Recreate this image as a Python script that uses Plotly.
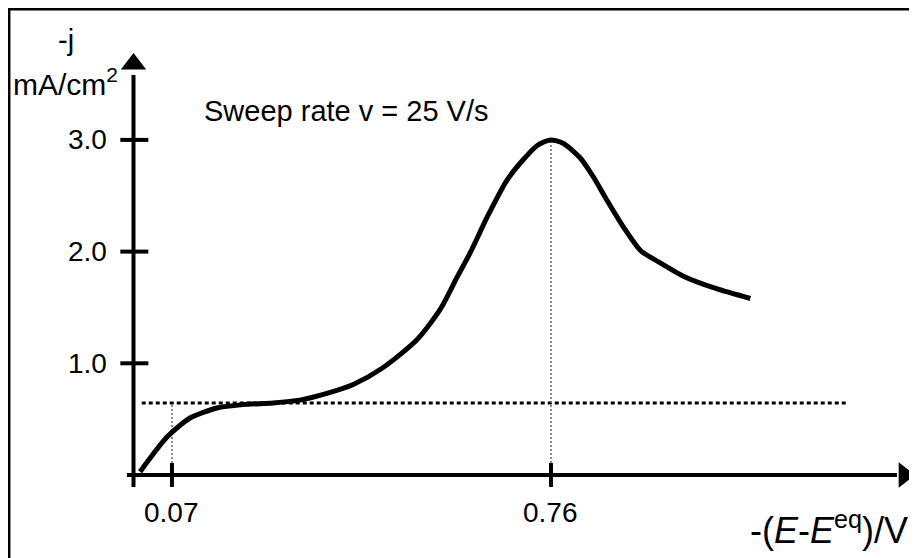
import plotly.graph_objects as go

# ---- data ----
potential = [0.012, 0.061, 0.103, 0.152, 0.199, 0.254, 0.303, 0.352, 0.400, 0.454,
             0.516, 0.558, 0.589, 0.613, 0.644, 0.680, 0.709, 0.735, 0.759, 0.782,
             0.813, 0.837, 0.862, 0.892, 0.923, 0.955, 1.001, 1.060, 1.123]
current = [0.03, 0.34, 0.51, 0.60, 0.63, 0.645, 0.67, 0.73, 0.81, 0.96,
           1.21, 1.48, 1.77, 1.99, 2.31, 2.64, 2.82, 2.95, 3.00, 2.97,
           2.84, 2.67, 2.46, 2.22, 2.01, 1.91, 1.78, 1.67, 1.58]

y_ticks = [1.0, 2.0, 3.0]
y_tick_labels = ["1.0", "2.0", "3.0"]
x_ticks = [0.07, 0.76]
x_tick_labels = ["0.07", "0.76"]
plateau = 0.645
plateau_end = 1.30
peak_x = 0.76
peak_y = 3.0
sweep_text = "Sweep rate v = 25 V/s"

FONT = "Liberation Sans, Arial, sans-serif"
# page body has an 8px margin, so the figure is shifted by 8px; ranges compensate
PX = 549.3
PY = 111.7
X0PX = 133.5
Y0PX = 475.0
OFF = 8
X_RANGE = [(OFF - X0PX) / PX, (OFF + 917 - X0PX) / PX]
Y_RANGE = [(Y0PX - (OFF + 558)) / PY, (Y0PX - OFF) / PY]

fig = go.Figure()

# dotted guide lines
fig.add_trace(go.Scatter(x=[0.015, plateau_end], y=[plateau, plateau], mode="lines",
                         line=dict(color="black", width=3, dash="4px,3px"),
                         hoverinfo="skip", showlegend=False))
fig.add_trace(go.Scatter(x=[x_ticks[0], x_ticks[0]], y=[0, plateau], mode="lines",
                         line=dict(color="#666666", width=1.5, dash="2px,2px"),
                         hoverinfo="skip", showlegend=False))
fig.add_trace(go.Scatter(x=[peak_x, peak_x], y=[0, peak_y], mode="lines",
                         line=dict(color="#666666", width=1.5, dash="2px,2px"),
                         hoverinfo="skip", showlegend=False))

# axes lines
fig.add_trace(go.Scatter(x=[0, 0], y=[-0.107, 3.58], mode="lines",
                         line=dict(color="black", width=4), hoverinfo="skip", showlegend=False))
fig.add_trace(go.Scatter(x=[-0.012, 1.39], y=[0, 0], mode="lines",
                         line=dict(color="black", width=4), hoverinfo="skip", showlegend=False))
# arrow heads
fig.add_trace(go.Scatter(x=[0], y=[3.68], mode="markers",
                         marker=dict(symbol="triangle-up", size=22, color="black"),
                         hoverinfo="skip", showlegend=False))
fig.add_trace(go.Scatter(x=[1.403], y=[0], mode="markers",
                         marker=dict(symbol="triangle-right", size=22, color="black"),
                         hoverinfo="skip", showlegend=False))

# tick marks
for t in y_ticks:
    fig.add_trace(go.Scatter(x=[-0.024, 0.027], y=[t, t], mode="lines",
                             line=dict(color="black", width=4), hoverinfo="skip", showlegend=False))
for t in x_ticks:
    fig.add_trace(go.Scatter(x=[t, t], y=[-0.107, 0.107], mode="lines",
                             line=dict(color="black", width=4), hoverinfo="skip", showlegend=False))

# main curve
fig.add_trace(go.Scatter(x=potential, y=current, mode="lines",
                         line=dict(color="black", width=5, shape="spline", smoothing=0.7),
                         hoverinfo="skip", showlegend=False))

annotations = []
for t, lab in zip(y_ticks, y_tick_labels):
    annotations.append(dict(x=-0.045, y=t, xref="x", yref="y", text=lab, showarrow=False,
                            xanchor="right", yanchor="middle",
                            font=dict(family=FONT, size=28, color="black")))
for t, lab in zip(x_ticks, x_tick_labels):
    annotations.append(dict(x=t, y=-0.34, xref="x", yref="y", text=lab, showarrow=False,
                            xanchor="center", yanchor="middle",
                            font=dict(family=FONT, size=28, color="black")))
annotations.append(dict(x=0.125, y=3.26, xref="x", yref="y", text=sweep_text, showarrow=False,
                        xanchor="left", yanchor="middle",
                        font=dict(family=FONT, size=29, color="black")))
annotations.append(dict(x=-0.1229, y=3.89, xref="x", yref="y", text="-j", showarrow=False,
                        xanchor="center", yanchor="middle",
                        font=dict(family=FONT, size=29, color="black")))
annotations.append(dict(x=-0.2230, y=3.52, xref="x", yref="y", text="mA/cm<sup>2</sup>",
                        showarrow=False, xanchor="left", yanchor="middle",
                        font=dict(family=FONT, size=30, color="black")))
annotations.append(dict(x=1.413, y=-0.47, xref="x", yref="y",
                        text="-(<i>E</i>-<i>E</i><sup>eq</sup>)/V", showarrow=False,
                        xanchor="right", yanchor="middle",
                        font=dict(family=FONT, size=36, color="black")))

fig.update_layout(
    width=917, height=558,
    margin=dict(l=0, r=0, t=0, b=0),
    paper_bgcolor="white", plot_bgcolor="white",
    xaxis=dict(range=X_RANGE, visible=False, fixedrange=True),
    yaxis=dict(range=Y_RANGE, visible=False, fixedrange=True),
    annotations=annotations,
    shapes=[dict(type="rect", xref="paper", yref="paper",
                 x0=1.2 / 917, y0=-0.05, x1=1.05, y1=1 - 1.2 / 558,
                 line=dict(color="black", width=2.5))],
)

fig.write_html("out.html")
